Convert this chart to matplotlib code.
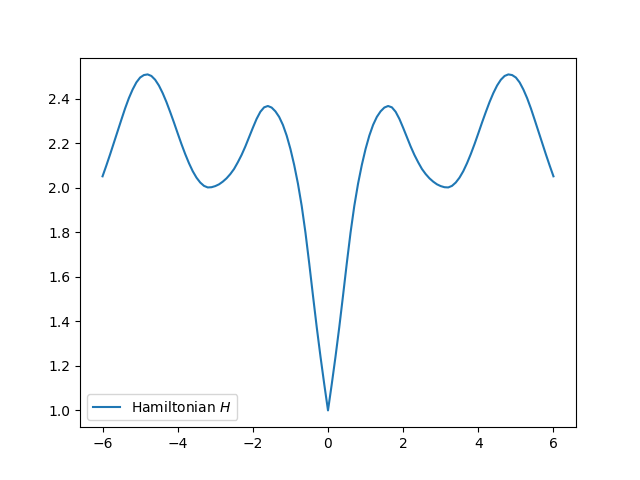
import numpy as np
import matplotlib
matplotlib.use('Agg')
import matplotlib.pyplot as plt

# sample grid, step 0.1 from -6 to 6
x = np.linspace(-6, 6, 121)

# H values, left half (x = -6.0 ... -0.1)
h_left = [2.052, 2.100, 2.150, 2.202, 2.254, 2.306, 2.357, 2.403, 2.442, 2.474,
          2.496, 2.507, 2.510, 2.503, 2.486, 2.460, 2.426, 2.386, 2.341, 2.294,
          2.245, 2.197, 2.152, 2.111, 2.075, 2.046, 2.024, 2.009, 2.002, 2.003,
          2.008, 2.016, 2.028, 2.043, 2.062, 2.085, 2.115, 2.148, 2.186, 2.228,
          2.270, 2.310, 2.342, 2.362, 2.368, 2.361, 2.344, 2.319, 2.283, 2.235,
          2.175, 2.103, 2.019, 1.919, 1.799, 1.661, 1.516, 1.374, 1.242, 1.118]

# centre and right half (x = 0.0 ... 6.0)
h_right = [1.000,
           1.118, 1.242, 1.374, 1.516, 1.661, 1.799, 1.919, 2.019, 2.103, 2.175,
           2.235, 2.283, 2.319, 2.344, 2.361, 2.368, 2.362, 2.342, 2.310, 2.270,
           2.228, 2.186, 2.148, 2.115, 2.085, 2.062, 2.043, 2.028, 2.016, 2.008,
           2.003, 2.002, 2.009, 2.024, 2.046, 2.075, 2.111, 2.152, 2.197, 2.245,
           2.294, 2.341, 2.386, 2.426, 2.460, 2.486, 2.503, 2.510, 2.507, 2.496,
           2.474, 2.442, 2.403, 2.357, 2.306, 2.254, 2.202, 2.150, 2.100, 2.052]

H = np.array(h_left + h_right)

fig = plt.figure(figsize=(6.4, 4.8), dpi=100)
plt.plot(x, H, label='Hamiltonian $H$')
plt.legend(loc='lower left')
plt.savefig('out.png')
